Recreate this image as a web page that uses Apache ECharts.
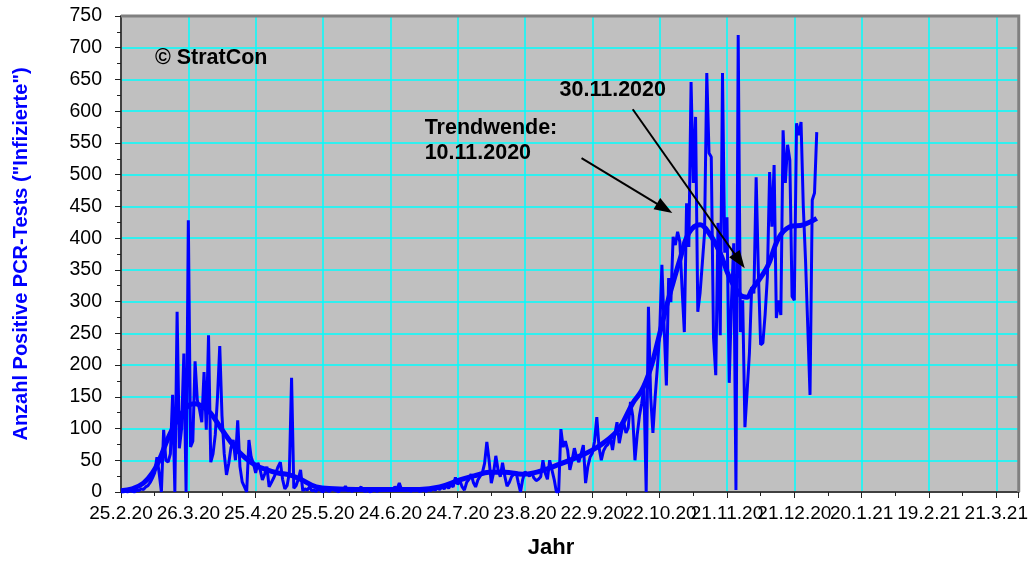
<!DOCTYPE html>
<html>
<head>
<meta charset="utf-8">
<title>Positive PCR-Tests</title>
<script src="https://cdn.jsdelivr.net/npm/echarts@6/dist/echarts.min.js"></script>
<style>
    html, body { margin: 0; padding: 0; background: #fff; }
    #box { width: 1031px; height: 563px; }
</style>
</head>
<body>
<div id="box"></div>
<script>
// Tag 0 = 25.2.2020, ein Wert pro Tag
var rawCases = [
    0, 0, 1, 0, 2, 1, 0, 3, 2, 5,
    4, 8, 10, 15, 22, 30, 55, 30, 0, 98,
    50, 47, 60, 153, 0, 284, 69, 100, 218, 0,
    428, 71, 80, 206, 145, 130, 110, 189, 98, 247,
    47, 60, 90, 150, 230, 120, 60, 27, 45, 70,
    82, 50, 113, 40, 16, 8, 0, 82, 55, 45,
    30, 46, 35, 19, 28, 40, 8, 15, 22, 30,
    40, 47, 20, 5, 10, 30, 180, 6, 10, 20,
    35, 2, 5, 3, 8, 2, 3, 1, 5, 2,
    0, 4, 2, 1, 6, 3, 2, 0, 5, 3,
    9, 2, 3, 1, 4, 2, 5, 8, 2, 1,
    3, 0, 2, 4, 1, 3, 2, 5, 2, 6,
    3, 4, 8, 5, 14, 4, 3, 2, 5, 1,
    3, 2, 4, 1, 2, 3, 1, 4, 2, 5,
    3, 6, 4, 8, 5, 10, 6, 12, 8, 23,
    12, 18, 8, 3, 15, 20, 28, 15, 8, 19,
    25, 30, 45, 79, 50, 14, 30, 57, 35, 24,
    46, 25, 9, 15, 24, 28, 32, 15, 0, 20,
    32, 28, 25, 30, 22, 18, 20, 24, 50, 30,
    20, 50, 35, 20, 0, 0, 99, 71, 80, 66,
    35, 50, 69, 55, 47, 60, 74, 14, 40, 55,
    61, 80, 118, 70, 50, 65, 72, 75, 87, 66, 90,
    110, 77, 95, 110, 93, 101, 142, 120, 50, 90,
    120, 140, 165, 0, 292, 150, 93, 150, 197, 250,
    358, 260, 168, 337, 299, 402, 389, 410, 394, 320,
    252, 455, 386, 646, 487, 591, 284, 313, 360, 408,
    660, 534, 528, 243, 184, 424, 247, 660, 377, 433,
    172, 300, 392, 3, 720, 252, 302, 102, 160, 219,
    323, 313, 496, 345, 232, 235, 280, 339, 504, 418,
    515, 274, 302, 279, 570, 487, 547, 523, 308, 302,
    581, 562, 583, 450, 365, 260, 153, 460, 471, 567
];

// geglaetteter Trend (Tag, Wert)
var trendDays = [0, 5, 10, 14, 17, 21, 25, 30, 33, 37, 40, 45, 51, 55, 60, 65, 70, 75, 80, 87,
    95, 105, 115, 125, 133, 142, 151, 158, 164, 171, 179, 186, 194, 202, 210, 216, 222, 228, 232, 236,
    239, 243, 246, 249, 253, 258, 262, 267, 271, 276, 279, 281, 288, 293, 298, 304, 310];
var trendValues = [2, 5, 14, 30, 50, 85, 113, 136, 139, 133, 124, 98, 69, 55, 42, 35, 30, 27, 20, 8,
    5, 4, 4, 4, 4, 8, 19, 26, 31, 31, 28, 32, 42, 53, 66, 80, 100, 140, 160, 195,
    235, 292, 330, 366, 408, 421, 408, 376, 339, 310, 307, 318, 355, 400, 418, 421, 431];

// Pfeile: [Starttag, Startwert, Zieltag, Zielwert]
var arrows = [
    [205.2, 526, 242.2, 447],
    [228, 603, 275.6, 364]
];

// Beschriftungen im Diagramm: [Text, Tag, Wert]
var notes = [
    ['\u00a9 StratCon', 15.1, 684],
    ['30.11.2020', 195.4, 633],
    ['Trendwende:', 135.3, 573],
    ['10.11.2020', 135.3, 534]
];

var startDate = Date.UTC(2020, 1, 25);
var fontName = '"Liberation Sans", Arial, sans-serif';

function dayLabel(v) {
    var d = new Date(startDate + v * 86400000);
    return d.getUTCDate() + '.' + (d.getUTCMonth() + 1) + '.' + String(d.getUTCFullYear()).slice(2);
}

window.onload = function () {
    var myChart = echarts.init(document.getElementById('box'));

    var rawData = rawCases.map(function (v, i) { return [i, v]; });
    var trendData = trendDays.map(function (d, i) { return [d, trendValues[i]]; });

    var option = {
        animation: false,
        backgroundColor: '#ffffff',
        grid: {
            left: 121,
            right: 12,
            top: 16,
            bottom: 71,
            show: true,
            backgroundColor: '#C0C0C0',
            borderWidth: 0
        },
        xAxis: {
            type: 'value',
            min: 0,
            max: 400,
            interval: 30,
            axisLine: { onZero: false, lineStyle: { color: '#404040', width: 2 } },
            axisTick: { show: true, length: 6, lineStyle: { color: '#222', width: 1 } },
            minorTick: { show: true, splitNumber: 2, length: 4, lineStyle: { color: '#222' } },
            splitLine: { show: true, lineStyle: { color: '#00FFFF', width: 1.5 } },
            axisLabel: {
                color: '#000',
                fontSize: 19,
                fontFamily: fontName,
                margin: 12,
                showMaxLabel: false,
                formatter: dayLabel
            }
        },
        yAxis: {
            type: 'value',
            min: 0,
            max: 750,
            interval: 50,
            name: 'Anzahl Positive PCR-Tests ("Infizierte")',
            nameLocation: 'middle',
            nameGap: 90,
            nameTextStyle: {
                color: '#0000FF',
                fontSize: 20,
                fontWeight: 'bold',
                fontFamily: fontName
            },
            axisLine: { show: true, onZero: false, lineStyle: { color: '#404040', width: 2 } },
            axisTick: { show: true, length: 6, lineStyle: { color: '#222', width: 1 } },
            minorTick: { show: true, splitNumber: 2, length: 4, lineStyle: { color: '#222' } },
            splitLine: { show: true, lineStyle: { color: '#00FFFF', width: 1.5 } },
            axisLabel: {
                color: '#000',
                fontSize: 19.5,
                fontFamily: fontName,
                margin: 19
            }
        },
        series: [
            {
                name: 'Positive',
                type: 'line',
                data: rawData,
                showSymbol: false,
                lineStyle: { color: '#0000FF', width: 3 },
                itemStyle: { color: '#0000FF' },
                z: 3
            },
            {
                name: 'Trend',
                type: 'line',
                data: trendData,
                smooth: 0.4,
                showSymbol: false,
                lineStyle: { color: '#0000FF', width: 5 },
                itemStyle: { color: '#0000FF' },
                z: 4,
                markLine: {
                    silent: true,
                    symbol: ['none', 'triangle'],
                    symbolSize: [13, 18],
                    label: { show: false },
                    lineStyle: { color: '#000', width: 2, type: 'solid' },
                    data: arrows.map(function (a) {
                        return [{ coord: [a[0], a[1]] }, { coord: [a[2], a[3]] }];
                    })
                }
            }
        ]
    };
    myChart.setOption(option);

    // Texte ueber die Achsen in Pixel umrechnen
    var texts = notes.map(function (n) {
        var p = myChart.convertToPixel('grid', [n[1], n[2]]);
        return {
            type: 'text',
            x: p[0],
            y: p[1],
            z: 100,
            style: {
                text: n[0],
                fill: '#000',
                font: 'bold 21.5px ' + fontName,
                textAlign: 'left',
                textVerticalAlign: 'middle'
            }
        };
    });
    texts.push({
        type: 'text',
        x: 551,
        y: 548,
        z: 100,
        style: {
            text: 'Jahr',
            fill: '#000',
            font: 'bold 22px ' + fontName,
            textAlign: 'center',
            textVerticalAlign: 'middle'
        }
    });

    // grauer Rahmen oben und rechts wie im Original
    var tl = myChart.convertToPixel('grid', [0, 750]);
    var br = myChart.convertToPixel('grid', [400, 0]);
    texts.push({
        type: 'polyline',
        z: 50,
        shape: { points: [[tl[0], tl[1]], [br[0], tl[1]], [br[0], br[1]]] },
        style: { stroke: '#808080', lineWidth: 3, fill: null }
    });
    myChart.setOption({ graphic: texts });
};
</script>
</body>
</html>
